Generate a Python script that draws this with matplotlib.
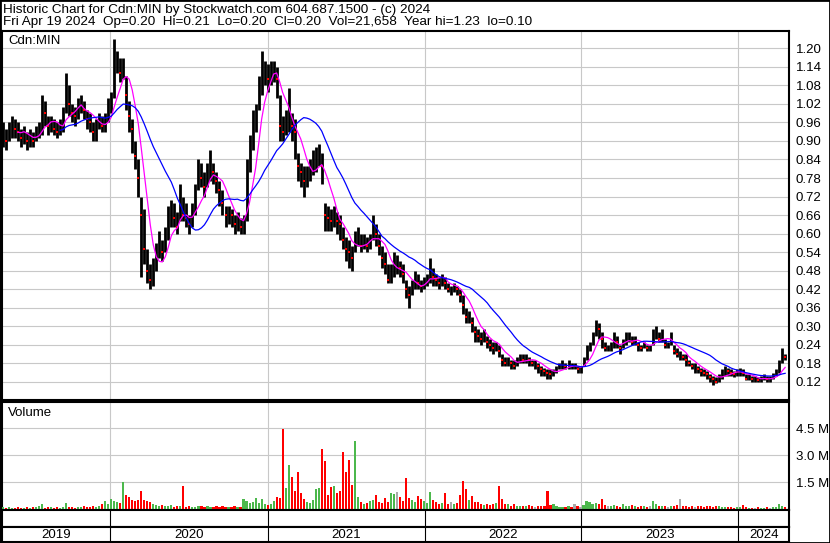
import numpy as np
import pandas as pd
import matplotlib
matplotlib.use("Agg")
import matplotlib.pyplot as plt
from matplotlib.patches import Rectangle

plt.rcParams['font.family'] = ['Liberation Sans', 'DejaVu Sans']

# weekly bars, Apr 2019 -> Apr 19 2024
dates = pd.date_range(end="2024-04-19", periods=261, freq="W-FRI")

close = [
    0.92, 0.90, 0.93, 0.95, 0.94, 0.93, 0.91, 0.92, 0.90, 0.91,
    0.90, 0.93, 0.94, 1.00, 0.99, 0.95, 0.96, 0.94, 0.93, 0.94,
    0.97, 1.07, 1.02, 0.99, 0.98, 1.01, 1.03, 1.00, 0.97, 0.96,
    0.93, 0.95, 0.97, 0.95, 0.96, 1.00, 1.03, 1.15, 1.16, 1.12,
    1.14, 1.05, 0.98, 0.94, 0.85, 0.78, 0.66, 0.55, 0.48, 0.45,
    0.46, 0.55, 0.57, 0.54, 0.58, 0.64, 0.68, 0.65, 0.62, 0.70,
    0.66, 0.65, 0.63, 0.66, 0.72, 0.80, 0.78, 0.75, 0.79, 0.82,
    0.80, 0.77, 0.74, 0.70, 0.66, 0.67, 0.66, 0.63, 0.64, 0.62,
    0.63, 0.81, 0.88, 0.95, 0.98, 1.08, 1.12, 1.14, 1.10, 1.12,
    1.14, 1.10, 0.95, 0.93, 0.96, 0.98, 0.95, 0.93, 0.82, 0.80,
    0.77, 0.78, 0.81, 0.83, 0.84, 0.86, 0.82, 0.66, 0.65, 0.64,
    0.66, 0.64, 0.63, 0.58, 0.55, 0.54, 0.52, 0.58, 0.60, 0.56,
    0.57, 0.56, 0.58, 0.63, 0.60, 0.56, 0.52, 0.50, 0.45, 0.47,
    0.50, 0.50, 0.49, 0.47, 0.42, 0.40, 0.43, 0.46, 0.44, 0.43,
    0.44, 0.45, 0.50, 0.46, 0.45, 0.44, 0.45, 0.44, 0.42, 0.42,
    0.43, 0.42, 0.40, 0.37, 0.33, 0.34, 0.31, 0.28, 0.27, 0.26,
    0.27, 0.25, 0.24, 0.23, 0.24, 0.22, 0.19, 0.18, 0.19, 0.18,
    0.17, 0.19, 0.20, 0.19, 0.20, 0.19, 0.18, 0.18, 0.17, 0.16,
    0.155, 0.15, 0.145, 0.15, 0.16, 0.17, 0.175, 0.17, 0.175, 0.17,
    0.17, 0.16, 0.16, 0.19, 0.23, 0.24, 0.27, 0.30, 0.29, 0.26,
    0.23, 0.23, 0.24, 0.26, 0.25, 0.23, 0.25, 0.26, 0.27, 0.25,
    0.26, 0.24, 0.23, 0.24, 0.23, 0.23, 0.27, 0.28, 0.26, 0.27,
    0.24, 0.24, 0.26, 0.22, 0.21, 0.21, 0.20, 0.19, 0.18, 0.17,
    0.17, 0.16, 0.155, 0.15, 0.145, 0.135, 0.13, 0.12, 0.135, 0.15,
    0.16, 0.155, 0.15, 0.145, 0.15, 0.155, 0.15, 0.13, 0.135, 0.13,
    0.13, 0.125, 0.13, 0.135, 0.13, 0.13, 0.14, 0.15, 0.17, 0.21,
    0.20,
]

high = [
    0.96, 0.94, 0.96, 0.98, 0.97, 0.96, 0.94, 0.95, 0.93, 0.94,
    0.93, 0.95, 0.96, 1.05, 1.03, 0.98, 0.98, 0.97, 0.96, 0.97,
    1.01, 1.12, 1.08, 1.02, 1.01, 1.04, 1.05, 1.03, 1.00, 0.99,
    0.96, 0.97, 0.99, 0.98, 0.99, 1.04, 1.06, 1.23, 1.19, 1.17,
    1.17, 1.11, 1.03, 0.97, 0.90, 0.84, 0.72, 0.68, 0.55, 0.50,
    0.52, 0.57, 0.61, 0.58, 0.62, 0.69, 0.71, 0.70, 0.67, 0.76,
    0.72, 0.70, 0.66, 0.70, 0.76, 0.84, 0.83, 0.80, 0.83, 0.87,
    0.83, 0.80, 0.77, 0.74, 0.69, 0.69, 0.68, 0.66, 0.67, 0.65,
    0.66, 0.84, 0.92, 1.00, 1.02, 1.11, 1.19, 1.16, 1.15, 1.16,
    1.16, 1.14, 1.05, 0.98, 1.00, 1.07, 0.99, 0.97, 0.86, 0.83,
    0.82, 0.82, 0.84, 0.87, 0.88, 0.89, 0.86, 0.70, 0.69, 0.68,
    0.69, 0.67, 0.66, 0.62, 0.59, 0.58, 0.56, 0.61, 0.62, 0.60,
    0.60, 0.59, 0.60, 0.66, 0.63, 0.60, 0.56, 0.54, 0.50, 0.50,
    0.54, 0.53, 0.51, 0.50, 0.45, 0.43, 0.45, 0.48, 0.47, 0.45,
    0.46, 0.47, 0.52, 0.49, 0.47, 0.46, 0.47, 0.46, 0.44, 0.43,
    0.44, 0.43, 0.42, 0.40, 0.36, 0.35, 0.33, 0.30, 0.29, 0.28,
    0.29, 0.27, 0.26, 0.25, 0.25, 0.24, 0.21, 0.20, 0.20, 0.19,
    0.19, 0.20, 0.21, 0.21, 0.21, 0.20, 0.19, 0.19, 0.18, 0.17,
    0.165, 0.16, 0.16, 0.16, 0.17, 0.18, 0.19, 0.18, 0.19, 0.18,
    0.18, 0.17, 0.17, 0.20, 0.24, 0.25, 0.28, 0.32, 0.31, 0.28,
    0.25, 0.24, 0.25, 0.28, 0.27, 0.24, 0.26, 0.28, 0.28, 0.27,
    0.27, 0.25, 0.24, 0.25, 0.24, 0.24, 0.29, 0.30, 0.28, 0.29,
    0.26, 0.25, 0.28, 0.24, 0.23, 0.22, 0.21, 0.21, 0.19, 0.18,
    0.18, 0.17, 0.165, 0.16, 0.155, 0.145, 0.14, 0.135, 0.145, 0.16,
    0.17, 0.165, 0.16, 0.155, 0.16, 0.165, 0.16, 0.145, 0.145, 0.14,
    0.14, 0.135, 0.14, 0.145, 0.14, 0.14, 0.15, 0.16, 0.19, 0.23,
    0.21,
]

low = [
    0.88, 0.87, 0.90, 0.91, 0.91, 0.90, 0.88, 0.89, 0.87, 0.88,
    0.88, 0.90, 0.91, 0.92, 0.95, 0.92, 0.93, 0.92, 0.91, 0.92,
    0.93, 0.99, 0.98, 0.96, 0.95, 0.97, 0.99, 0.97, 0.94, 0.93,
    0.90, 0.90, 0.94, 0.93, 0.93, 0.96, 0.99, 1.04, 1.12, 1.09,
    1.10, 1.00, 0.93, 0.86, 0.81, 0.72, 0.46, 0.50, 0.44, 0.42,
    0.43, 0.48, 0.52, 0.51, 0.54, 0.58, 0.62, 0.62, 0.60, 0.64,
    0.64, 0.62, 0.60, 0.62, 0.66, 0.74, 0.75, 0.72, 0.75, 0.77,
    0.76, 0.73, 0.69, 0.66, 0.62, 0.63, 0.62, 0.60, 0.61, 0.60,
    0.60, 0.64, 0.80, 0.87, 0.93, 1.00, 1.05, 1.08, 1.06, 1.08,
    1.09, 1.04, 0.90, 0.90, 0.92, 0.93, 0.90, 0.84, 0.77, 0.75,
    0.72, 0.75, 0.77, 0.79, 0.80, 0.82, 0.76, 0.61, 0.61, 0.61,
    0.62, 0.60, 0.58, 0.55, 0.51, 0.49, 0.48, 0.54, 0.56, 0.54,
    0.55, 0.54, 0.55, 0.58, 0.56, 0.53, 0.49, 0.47, 0.44, 0.44,
    0.46, 0.47, 0.46, 0.44, 0.39, 0.36, 0.40, 0.42, 0.42, 0.41,
    0.42, 0.43, 0.44, 0.43, 0.43, 0.42, 0.43, 0.42, 0.41, 0.40,
    0.41, 0.40, 0.38, 0.34, 0.31, 0.31, 0.28, 0.25, 0.25, 0.24,
    0.25, 0.23, 0.22, 0.21, 0.22, 0.20, 0.17, 0.17, 0.17, 0.16,
    0.16, 0.17, 0.18, 0.18, 0.18, 0.17, 0.17, 0.16, 0.15, 0.14,
    0.14, 0.13, 0.13, 0.14, 0.15, 0.16, 0.16, 0.16, 0.16, 0.16,
    0.16, 0.15, 0.15, 0.17, 0.19, 0.22, 0.24, 0.27, 0.26, 0.23,
    0.22, 0.22, 0.22, 0.23, 0.23, 0.21, 0.23, 0.24, 0.25, 0.24,
    0.24, 0.22, 0.22, 0.23, 0.22, 0.22, 0.24, 0.26, 0.25, 0.25,
    0.23, 0.23, 0.24, 0.21, 0.20, 0.19, 0.19, 0.17, 0.17, 0.16,
    0.15, 0.15, 0.14, 0.14, 0.13, 0.12, 0.11, 0.115, 0.12, 0.13,
    0.14, 0.14, 0.14, 0.135, 0.14, 0.14, 0.14, 0.125, 0.125, 0.12,
    0.12, 0.12, 0.12, 0.125, 0.12, 0.12, 0.13, 0.14, 0.15, 0.18,
    0.19,
]

# volume in millions of shares
volume = [
    0.15, 0.10, 0.12, 0.08, 0.10, 0.12, 0.08, 0.10, 0.14, 0.10,
    0.12, 0.15, 0.18, 0.30, 0.10, 0.15, 0.12, 0.08, 0.12, 0.10,
    0.15, 0.35, 0.15, 0.12, 0.10, 0.15, 0.12, 0.18, 0.15, 0.12,
    0.18, 0.15, 0.20, 0.30, 0.45, 0.30, 0.57, 0.45, 0.40, 0.35,
    1.50, 0.80, 0.70, 0.50, 0.45, 0.55, 1.03, 0.55, 0.45, 0.40,
    0.30, 0.25, 0.20, 0.25, 0.18, 0.20, 0.25, 0.15, 0.20, 0.18,
    1.30, 0.15, 0.20, 0.15, 0.12, 0.20, 0.18, 0.15, 0.20, 0.15,
    0.12, 0.20, 0.15, 0.18, 0.15, 0.12, 0.15, 0.20, 0.15, 0.15,
    0.57, 0.45, 0.35, 0.40, 0.65, 0.35, 0.57, 0.30, 0.25, 0.30,
    0.45, 0.70, 0.65, 4.49, 1.20, 2.46, 1.81, 1.00, 2.09, 0.92,
    0.60, 0.40, 0.35, 0.50, 1.11, 1.20, 3.34, 2.68, 0.83, 1.22,
    1.29, 0.90, 1.00, 3.20, 2.09, 2.73, 1.35, 3.79, 0.70, 0.40,
    0.30, 0.35, 0.45, 0.50, 0.83, 0.40, 0.35, 0.65, 0.40, 0.94,
    0.85, 0.98, 0.70, 0.45, 1.77, 0.61, 0.52, 0.40, 0.76, 0.57,
    0.45, 0.35, 0.98, 0.55, 0.40, 0.30, 0.35, 0.92, 0.30, 0.39,
    0.30, 0.35, 0.79, 1.57, 1.16, 0.52, 0.74, 0.40, 0.43, 0.30,
    0.24, 0.30, 0.25, 0.30, 0.35, 1.29, 0.57, 0.30, 0.28, 0.22,
    0.28, 0.20, 0.22, 0.18, 0.20, 0.24, 0.18, 0.15, 0.20, 0.18,
    0.22, 1.02, 0.25, 0.30, 0.18, 0.15, 0.12, 0.15, 0.18, 0.15,
    0.33, 0.20, 0.15, 0.25, 0.46, 0.40, 0.33, 0.35, 0.30, 0.57,
    0.25, 0.20, 0.18, 0.25, 0.20, 0.15, 0.30, 0.22, 0.18, 0.25,
    0.20, 0.15, 0.20, 0.18, 0.15, 0.22, 0.46, 0.30, 0.20, 0.22,
    0.18, 0.15, 0.20, 0.18, 0.25, 0.57, 0.22, 0.18, 0.15, 0.20,
    0.15, 0.18, 0.20, 0.15, 0.22, 0.18, 0.15, 0.20, 0.18, 0.15,
    0.12, 0.15, 0.12, 0.10, 0.12, 0.15, 0.24, 0.12, 0.10, 0.08,
    0.10, 0.12, 0.08, 0.10, 0.12, 0.10, 0.15, 0.12, 0.28, 0.20,
    0.12,
]

price_ticks = [0.12, 0.18, 0.24, 0.30, 0.36, 0.42, 0.48, 0.54, 0.60,
               0.66, 0.72, 0.78, 0.84, 0.90, 0.96, 1.02, 1.08, 1.14, 1.20]
vol_ticks = [1.5, 3.0, 4.5]
vol_labels = ["1.5 M", "3.0 M", "4.5 M"]
years = ["2019", "2020", "2021", "2022", "2023", "2024"]
year_starts = pd.to_datetime(["2020-01-01", "2021-01-01", "2022-01-01",
                              "2023-01-01", "2024-01-01"])

line1 = "Historic Chart for Cdn:MIN by Stockwatch.com 604.687.1500 - (c) 2024"
line2 = ("Fri Apr 19 2024  Op=0.20  Hi=0.21  Lo=0.20  Cl=0.20  "
         "Vol=21,658  Year hi=1.23  lo=0.10")

df = pd.DataFrame({"close": close, "high": high, "low": low, "vol": volume},
                  index=dates)
ma_short = df["close"].rolling(6).mean()
ma_long = df["close"].rolling(20).mean()
chg = df["close"].diff().fillna(1)
vcolors = np.where(chg > 0, "#4cb84c", np.where(chg < 0, "#ff0000", "#aaaaaa"))

W, H = 830, 543
fig = plt.figure(figsize=(W / 100, H / 100), dpi=100)


def rect(x0, y0, x1, y1):
    return [x0 / W, 1 - y1 / H, (x1 - x0) / W, (y1 - y0) / H]


xmin, xmax = pd.Timestamp("2019-04-24"), pd.Timestamp("2024-04-28")
grid_c = "#c8c8c8"

ax_p = fig.add_axes(rect(2, 31, 789, 400))
ax_v = fig.add_axes(rect(2, 402, 789, 509.5))
ax_s = fig.add_axes(rect(2, 509.5, 789, 527))
ax_y = fig.add_axes(rect(2, 527, 789, 542))

for ax in (ax_p, ax_v, ax_s, ax_y):
    ax.set_xlim(xmin, xmax)
    for sp in ax.spines.values():
        sp.set_linewidth(1.5)
        sp.set_color("black")
    ax.set_xticks(year_starts)
    ax.tick_params(axis="x", length=0, labelbottom=False)

# price panel
ax_p.vlines(dates, df["low"], df["high"], color="black", lw=2.0, zorder=3)
down = chg < 0
ax_p.plot(dates[down], df["close"][down], "s", color="red", ms=1.8, mew=0,
          zorder=4)
ax_p.plot(dates, ma_short, color="#ff00ff", lw=0.9, zorder=5)
ax_p.plot(dates, ma_long, color="#0000ff", lw=0.9, zorder=5)
ax_p.set_ylim(0.0612, 1.256)
ax_p.set_yticks(price_ticks)
ax_p.set_yticklabels([f"{v:.2f}" for v in price_ticks])
ax_p.yaxis.tick_right()
ax_p.tick_params(axis="y", length=0, pad=5, labelsize=9.5)
ax_p.grid(True, color=grid_c, lw=0.8)
ax_p.set_axisbelow(True)

# volume panel
ax_v.bar(dates, df["vol"], width=5.0, color=vcolors, zorder=3)
ax_v.set_ylim(0, 5.96)
ax_v.set_yticks(vol_ticks)
ax_v.set_yticklabels(vol_labels)
ax_v.yaxis.tick_right()
ax_v.tick_params(axis="y", length=0, pad=5, labelsize=9.5)
ax_v.grid(True, color=grid_c, lw=0.8)
ax_v.set_axisbelow(True)

# date strips
for ax in (ax_s, ax_y):
    ax.set_yticks([])
    ax.set_ylim(0, 1)
    ax.vlines(year_starts, 0, 1, color="black", lw=0.8)
edges = [xmin] + list(year_starts) + [xmax]
for i, yr in enumerate(years):
    mid = edges[i] + (edges[i + 1] - edges[i]) / 2
    ax_y.text(mid, 0.45, yr, ha="center", va="center", fontsize=9.5)

# labels and header
fig.text(3 / W, 1 - 10 / H, line1, va="center", fontsize=9.7)
fig.text(3 / W, 1 - 22 / H, line2, va="center", fontsize=9.7)
fig.text(8 / W, 1 - 41 / H, "Cdn:MIN", va="center", fontsize=9.5)
fig.text(8 / W, 1 - 413 / H, "Volume", va="center", fontsize=9.5)
fig.patches.append(Rectangle((0, 0), 1, 1, transform=fig.transFigure,
                             fill=False, lw=2, ec="black"))

fig.savefig("out.png", dpi=100)
